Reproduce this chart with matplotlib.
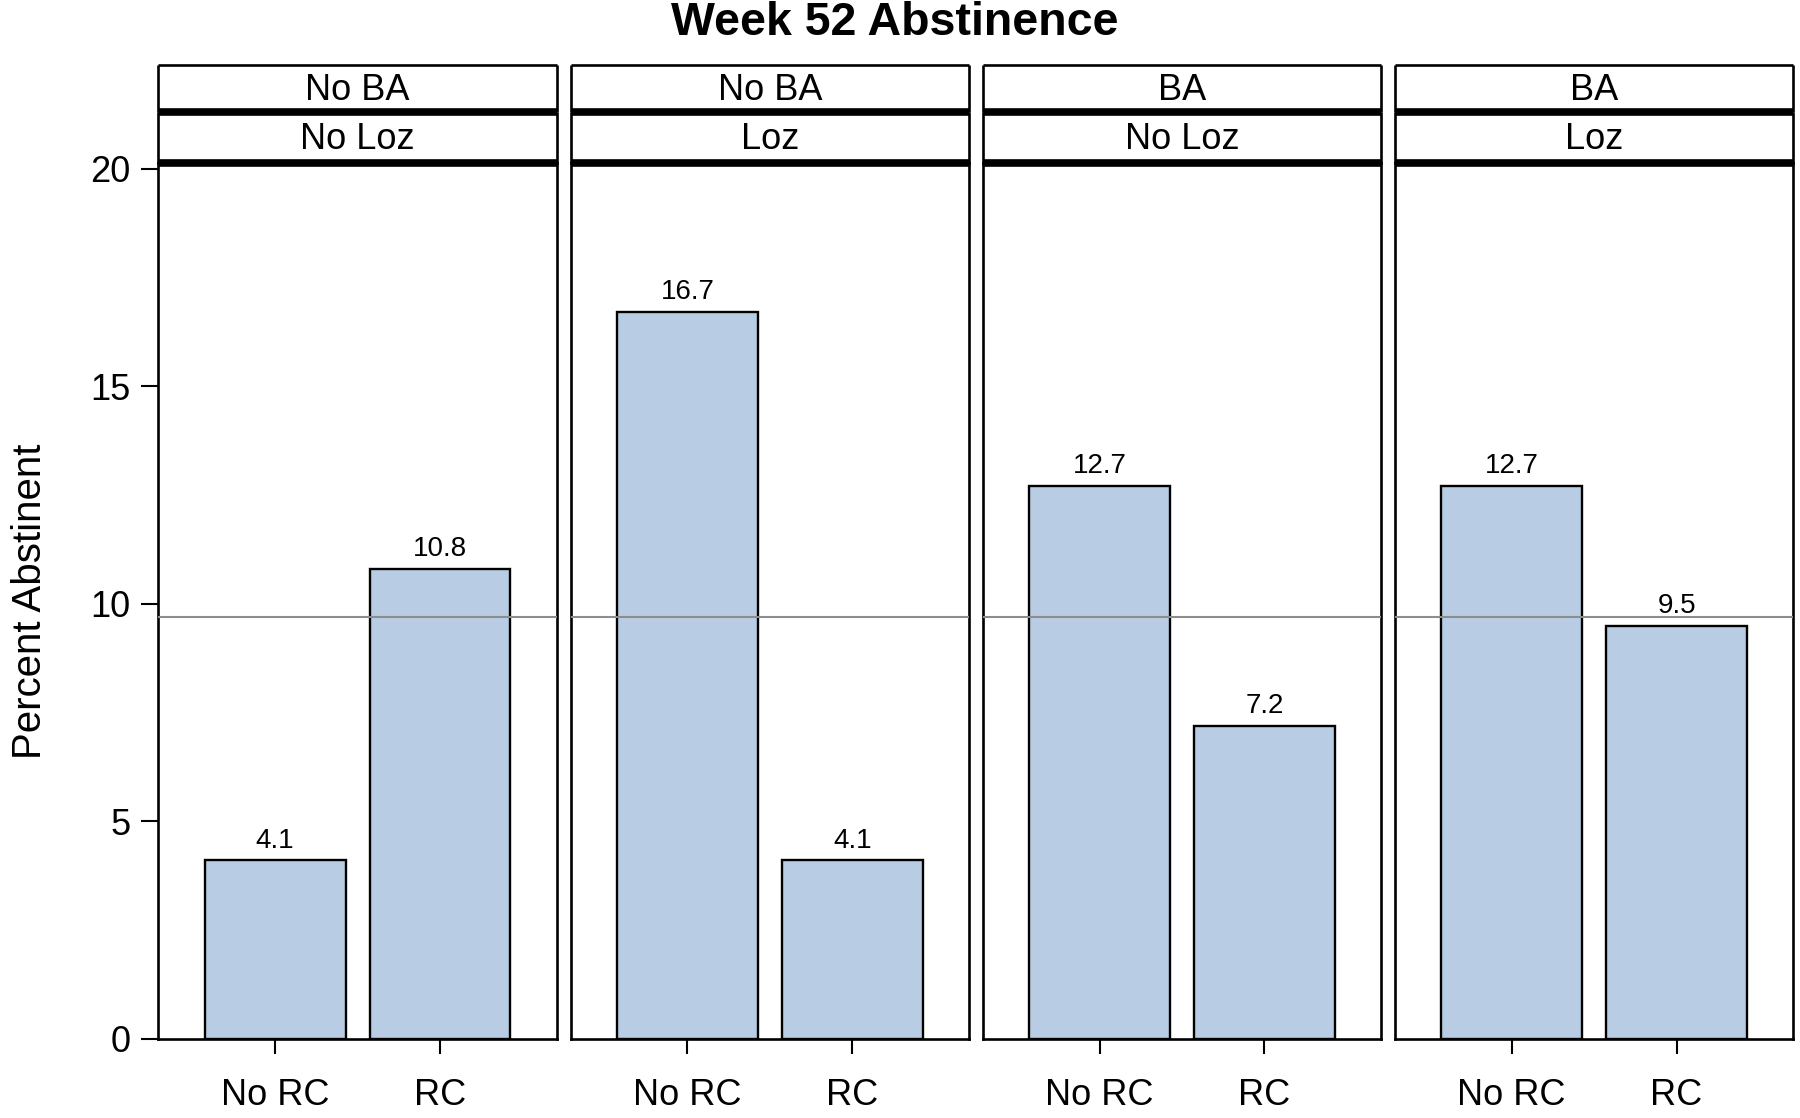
import matplotlib
matplotlib.use("Agg")
from matplotlib import pyplot as plt

plt.rcParams['font.family'] = ['Liberation Sans', 'DejaVu Sans']

# data
ba_labels = ["No BA", "No BA", "BA", "BA"]
loz_labels = ["No Loz", "Loz", "No Loz", "Loz"]
rc_labels = ["No RC", "RC"]
no_rc_pct = [4.1, 16.7, 12.7, 12.7]
rc_pct = [10.8, 4.1, 7.2, 9.5]
overall_pct = 9.7
yticks = [0, 5, 10, 15, 20]

bar_color = "#b8cce4"
frame_lw = 1.9

fig = plt.figure(figsize=(18, 11.18), dpi=100)

left = 0.088
width = 0.2213
gap = 0.0077
bottom = 0.0708
height = 0.7834
strip_h2 = 0.0452
strip_h1 = 0.0421

for i in range(4):
    x0 = left + i * (width + gap)
    ax = fig.add_axes([x0, bottom, width, height])
    vals = [no_rc_pct[i], rc_pct[i]]
    pos = [1, 2]
    ax.bar(pos, vals, width=0.855, color=bar_color, edgecolor="black", linewidth=1.7, zorder=2)
    ax.axhline(overall_pct, color="#8c8c8c", linewidth=1.5, zorder=3)
    for p, v in zip(pos, vals):
        ax.annotate(f"{v:.1f}", (p, v), xytext=(0, 5), textcoords="offset points",
                    ha="center", va="bottom", fontsize=20)
    ax.set_xlim(0.292, 2.708)
    ax.set_ylim(0, 20.13)
    ax.set_xticks(pos)
    ax.set_xticklabels(rc_labels, fontsize=26)
    ax.tick_params(axis="x", length=11, width=1.5, pad=17)
    if i == 0:
        ax.set_yticks(yticks)
        ax.set_yticklabels([str(t) for t in yticks], fontsize=26)
        ax.tick_params(axis="y", length=12, width=1.5, pad=8)
        ax.set_ylabel("Percent Abstinent", fontsize=29, labelpad=30)
    else:
        ax.set_yticks([])
    for s in ax.spines.values():
        s.set_linewidth(frame_lw)

    # strips: lower (Loz) then upper (BA)
    for lab, yb, h in [(loz_labels[i], bottom + height, strip_h2),
                       (ba_labels[i], bottom + height + strip_h2, strip_h1)]:
        sax = fig.add_axes([x0, yb, width, h])
        sax.set_xticks([])
        sax.set_yticks([])
        sax.text(0.5, 0.47, lab, ha="center", va="center", fontsize=26, transform=sax.transAxes)
        for name, s in sax.spines.items():
            s.set_linewidth(frame_lw)
            s.set_capstyle("butt")
        sax.spines["bottom"].set_linewidth(5.5)

fig.text(0.497, 0.979, "Week 52 Abstinence", ha="center", va="center",
         fontsize=33.5, fontweight="bold")

fig.savefig("out.png", dpi=100)
